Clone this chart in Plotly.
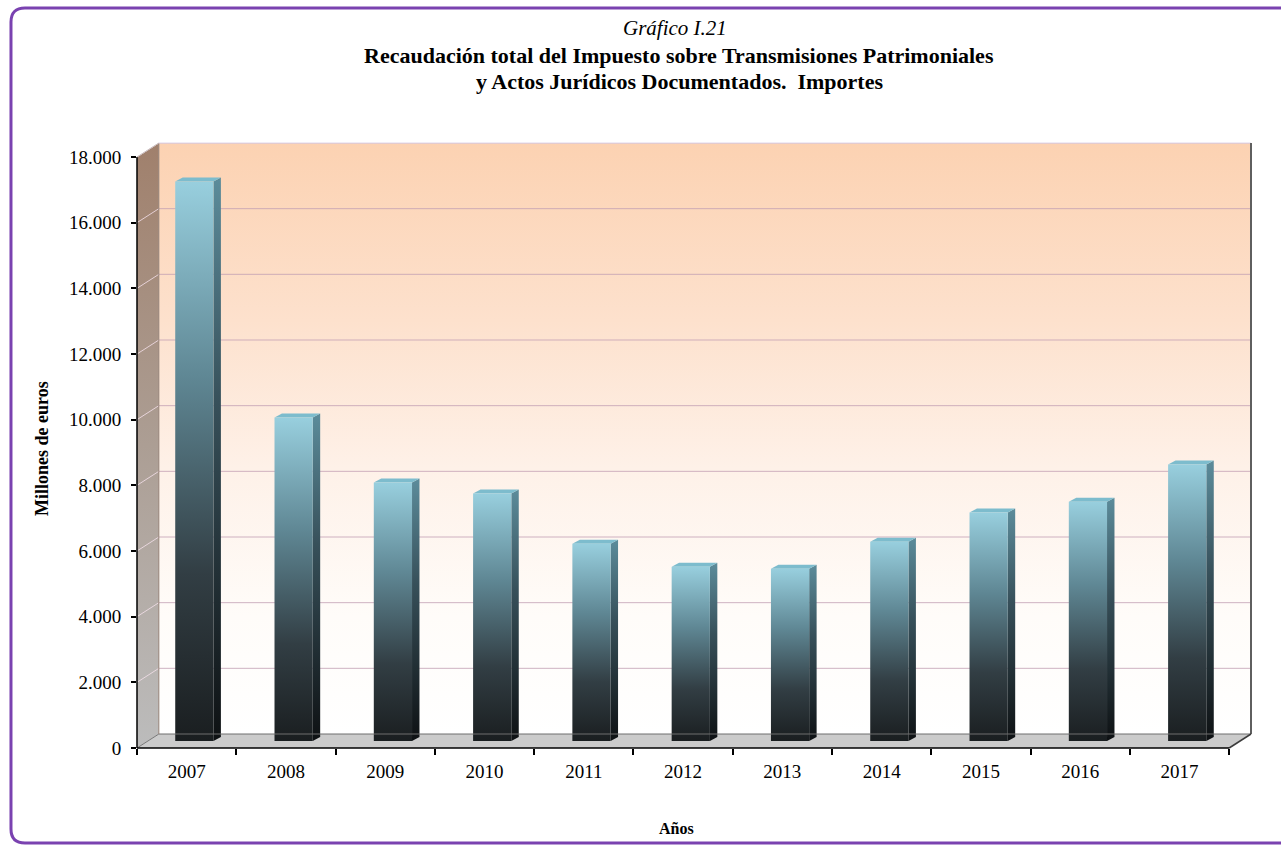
import plotly.graph_objects as go

# ---------------- data ----------------
years = ['2007', '2008', '2009', '2010', '2011', '2012', '2013', '2014', '2015', '2016', '2017']
values = [17040, 9850, 7870, 7540, 6010, 5310, 5250, 6070, 6960, 7290, 8420]
ytick_vals = [0, 2000, 4000, 6000, 8000, 10000, 12000, 14000, 16000, 18000]
ytick_text = ['0', '2.000', '4.000', '6.000', '8.000', '10.000', '12.000', '14.000', '16.000', '18.000']

title_1 = '<i>Gráfico I.21</i>'
title_2 = '<b>Recaudación total del Impuesto sobre Transmisiones Patrimoniales</b>'
title_3 = '<b>y Actos Jurídicos Documentados.  Importes</b>'
ytitle = '<b>Millones de euros</b>'
xtitle = '<b>Años</b>'

# ---------------- geometry ----------------
W, H = 1281, 846
n = len(years)
ML, MT, MB = 137, 143, 98
UNIT = (1229 - 137) / n          # px per category
YMAX = 18000
YPX = 591 / YMAX                 # px per value unit
DX = 0.22                        # depth offset (categories)
DY = 14 / YPX                    # depth offset (values)
X0 = -0.5
XEND = n - 0.5
X1 = XEND + DX
Y1 = YMAX + DY
PW = (X1 - X0) * UNIT
PH = H - MT - MB
MR = W - ML - PW

FONT = 'Liberation Serif'


def xp(v):
    return (v - X0) / (X1 - X0)


def yp(v):
    return v / Y1


def px_x(p):
    return (p - ML) / PW


def px_y(p):
    return (H - MB - p) / PH


fig = go.Figure()

# back wall with gradient
fig.add_trace(go.Scatter(
    x=[X0 + DX, X1, X1, X0 + DX, X0 + DX], y=[DY, DY, Y1, Y1, DY],
    fill='toself', mode='lines', line=dict(width=0),
    fillgradient=dict(type='vertical', colorscale=[
        [0, 'rgb(255,255,255)'], [0.2, 'rgb(255,252,249)'], [0.45, 'rgb(254,241,232)'],
        [0.7, 'rgb(253,225,205)'], [1, 'rgb(252,210,178)']]),
    hoverinfo='skip', showlegend=False))

# side wall
fig.add_trace(go.Scatter(
    x=[X0, X0 + DX, X0 + DX, X0, X0], y=[0, DY, Y1, YMAX, 0],
    fill='toself', mode='lines', line=dict(width=0),
    fillgradient=dict(type='vertical', colorscale=[
        [0, 'rgb(188,188,188)'], [0.5, 'rgb(172,158,148)'], [1, 'rgb(160,128,108)']]),
    hoverinfo='skip', showlegend=False))

# floor
fig.add_trace(go.Scatter(
    x=[X0, XEND, X1, X0 + DX, X0], y=[0, 0, DY, DY, 0],
    fill='toself', mode='lines', line=dict(width=0),
    fillcolor='rgb(203,203,203)', hoverinfo='skip', showlegend=False))

# gridlines on the back wall and side wall
gx, gy, sx, sy = [], [], [], []
for g in ytick_vals[1:]:
    gx += [X0 + DX, X1, None]
    gy += [g + DY, g + DY, None]
    sx += [X0, X0 + DX, None]
    sy += [g, g + DY, None]
fig.add_trace(go.Scatter(x=gx, y=gy, mode='lines', line=dict(color='rgba(195,160,180,0.8)', width=1),
                         hoverinfo='skip', showlegend=False))
fig.add_trace(go.Scatter(x=sx, y=sy, mode='lines', line=dict(color='rgba(245,225,235,0.8)', width=1),
                         hoverinfo='skip', showlegend=False))

# bars (3D look)
BL, BR = -0.115, 0.27
SX = 0.075
SY = 4 / YPX
BASE = DY / 2
front_cs = [[0, 'rgb(26,30,32)'], [0.3, 'rgb(50,62,68)'], [0.65, 'rgb(95,135,148)'], [1, 'rgb(152,207,222)']]
side_cs = [[0, 'rgb(14,17,19)'], [0.6, 'rgb(55,80,90)'], [1, 'rgb(92,140,155)']]
for i, (yr, v) in enumerate(zip(years, values)):
    l, r = i + BL, i + BR
    top = BASE + v
    fig.add_trace(go.Scatter(
        x=[r, r + SX, r + SX, r, r], y=[BASE, BASE + SY, top + SY, top, BASE],
        fill='toself', mode='lines', line=dict(width=0),
        fillgradient=dict(type='vertical', colorscale=side_cs),
        hoverinfo='skip', showlegend=False))
    fig.add_trace(go.Scatter(
        x=[l, r, r + SX, l + SX, l], y=[top, top, top + SY, top + SY, top],
        fill='toself', mode='lines', line=dict(width=0),
        fillcolor='rgb(125,188,205)', hoverinfo='skip', showlegend=False))
    fig.add_trace(go.Scatter(
        x=[l, r, r, l, l], y=[BASE, BASE, top, top, BASE],
        fill='toself', mode='lines', line=dict(width=0),
        fillgradient=dict(type='vertical', colorscale=front_cs),
        name=yr, text=[f'{v:,}'.replace(',', '.')] * 5,
        hovertemplate=yr + ': %{text}<extra></extra>', showlegend=False))

shapes = []


def seg(xa, ya, xb, yb, color, width=1):
    shapes.append(dict(type='line', xref='paper', yref='paper',
                       x0=xp(xa), y0=yp(ya), x1=xp(xb), y1=yp(yb),
                       line=dict(color=color, width=width), layer='above'))


seg(X0 + DX, DY, X1, DY, 'rgb(110,110,110)')          # floor back edge
seg(X0, 0, X0 + DX, DY, 'rgb(120,120,120)')            # floor left diagonal
seg(X0 + DX, DY, X0 + DX, Y1, 'rgb(150,130,120)')      # wall corner
seg(X0 + DX, Y1, X1, Y1, 'rgb(225,215,235)')           # back wall top
seg(X1, DY, X1, Y1, 'rgb(95,95,95)', 2)                # back wall right edge
seg(XEND, 0, X1, DY, 'rgb(60,60,60)', 1.5)             # floor right diagonal
seg(X0, 0, XEND, 0, 'black', 1.5)                      # x axis line
seg(X0, 0, X0, YMAX, 'black', 1.5)                     # y axis line
seg(X0, YMAX, X0 + DX, Y1, 'rgb(200,190,190)')         # side wall top

# purple rounded frame
bx0, by0, by1, rad = 11, 8, 843, 14
path = (f'M {px_x(1300)},{px_y(by0)} L {px_x(bx0 + rad)},{px_y(by0)} '
        f'Q {px_x(bx0)},{px_y(by0)} {px_x(bx0)},{px_y(by0 + rad)} '
        f'L {px_x(bx0)},{px_y(by1 - rad)} '
        f'Q {px_x(bx0)},{px_y(by1)} {px_x(bx0 + rad)},{px_y(by1)} '
        f'L {px_x(1300)},{px_y(by1)}')
shapes.append(dict(type='path', xref='paper', yref='paper', path=path,
                   line=dict(color='rgb(122,66,176)', width=3), layer='above'))

annotations = []


def ann(text, px, py, size, angle=0):
    annotations.append(dict(text=text, xref='paper', yref='paper', x=px_x(px), y=px_y(py),
                            xanchor='center', yanchor='middle', showarrow=False, textangle=angle,
                            font=dict(family=FONT, size=size, color='black')))


ann(title_1, 675, 28, 21)
ann(title_2, 679, 56, 22)
ann(title_3, 679, 82, 22)
ann(ytitle, 42, 448, 18, -90)
ann(xtitle, 676, 828, 16)

fig.update_layout(
    width=W, height=H,
    margin=dict(l=ML, r=MR, t=MT, b=MB, pad=0),
    paper_bgcolor='white', plot_bgcolor='rgba(0,0,0,0)',
    shapes=shapes, annotations=annotations,
    font=dict(family=FONT, size=19, color='black'),
    xaxis=dict(range=[X0, X1], tickvals=list(range(n)), ticktext=years, ticks='',
               showgrid=False, zeroline=False, showline=False, fixedrange=True,
               ticklabelstandoff=10, tickfont=dict(family=FONT, size=19, color='black'),
               minor=dict(tickvals=[k - 0.5 for k in range(n + 1)], ticks='outside',
                          ticklen=6, tickwidth=1.5, tickcolor='black', showgrid=False)),
    yaxis=dict(range=[0, Y1], tickvals=ytick_vals, ticktext=ytick_text, ticks='outside',
               ticklen=5, tickwidth=1.5, tickcolor='black', showgrid=False, zeroline=False,
               showline=False, fixedrange=True, ticklabelstandoff=6,
               tickfont=dict(family=FONT, size=19, color='black')),
)

fig.write_html('out.html', config={'displayModeBar': False},
               post_script="document.body.style.margin='0px';")
